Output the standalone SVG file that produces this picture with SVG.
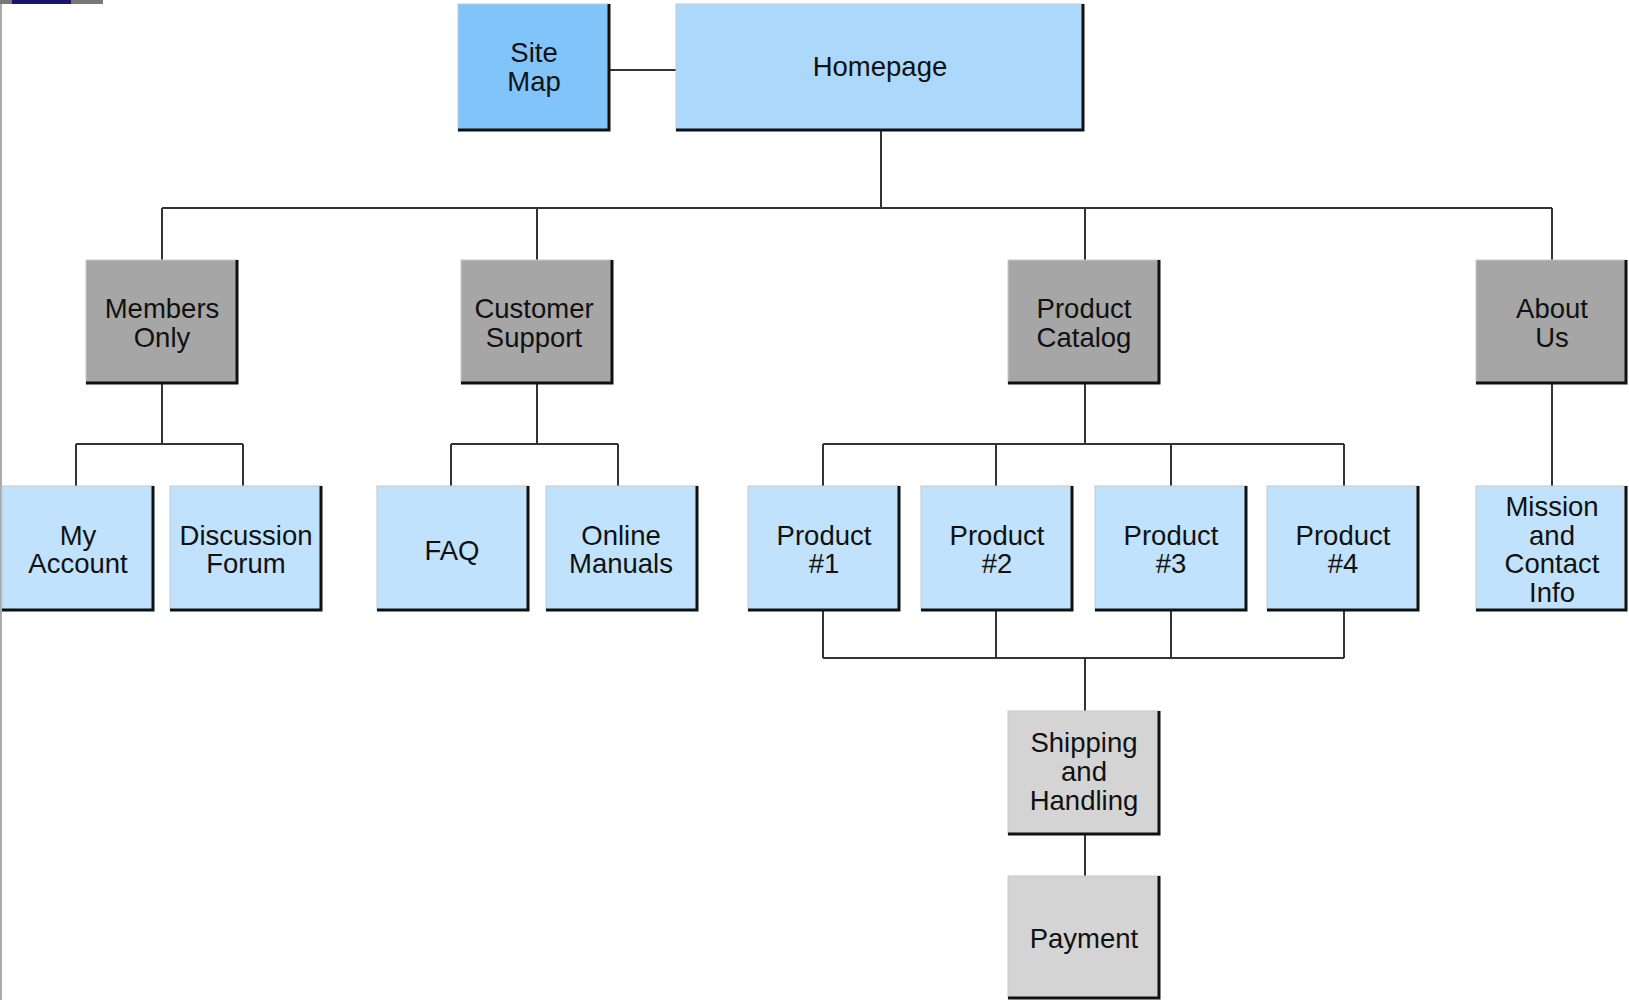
<svg xmlns="http://www.w3.org/2000/svg" width="1629" height="1000" viewBox="0 0 1629 1000">
<style>
.box{stroke:#c8c8c8;stroke-width:1}
.sh{fill:none;stroke:#111;stroke-width:3}
.sitemap{fill:#80c4fa}
.home{fill:#acd8fc}
.sec{fill:#a6a6a6}
.leaf{fill:#c0e2fc}
.chk{fill:#d4d4d4}
text{font-family:"Liberation Sans",Arial,Helvetica,sans-serif;font-size:27.5px;fill:#111;text-anchor:middle}
.conn{fill:none;stroke:#333;stroke-width:2}
</style>
<rect width="1629" height="1000" fill="#fff"/>
<rect x="0" y="0" width="103" height="4" fill="#777"/>
<rect x="12" y="0" width="59" height="4" fill="#15156a"/>
<rect x="0" y="4" width="2" height="996" fill="#aaa"/>

<g id="connectors">
<path class="conn" d="M610 70H676"/>
<path class="conn" d="M881 130V208M162 208H1552M162 208V260M537 208V260M1085 208V260M1552 208V260"/>
<path class="conn" d="M162 384V444M76 444H243M76 444V486M243 444V486"/>
<path class="conn" d="M537 384V444M451 444H618M451 444V486M618 444V486"/>
<path class="conn" d="M1085 384V444M823 444H1344M823 444V486M996 444V486M1171 444V486M1344 444V486"/>
<path class="conn" d="M1552 384V486"/>
<path class="conn" d="M823 611V658M996 611V658M1171 611V658M1344 611V658M823 658H1344M1085 658V711"/>
<path class="conn" d="M1085 834V876"/>
</g>

<g id="sitemap"><rect class="box sitemap" x="458" y="4" width="151" height="126"/><path class="sh" d="M609 4V130H458"/><text x="534" y="62">Site</text><text x="534" y="91">Map</text></g>
<g id="homepage"><rect class="box home" x="676" y="4" width="407" height="126"/><path class="sh" d="M1083 4V130H676"/><text x="880" y="76">Homepage</text></g>

<g id="members"><rect class="box sec" x="86" y="260" width="151" height="123"/><path class="sh" d="M237 260V383H86"/><text x="162" y="318">Members</text><text x="162" y="347">Only</text></g>
<g id="customer"><rect class="box sec" x="461" y="260" width="151" height="123"/><path class="sh" d="M612 260V383H461"/><text x="534" y="318">Customer</text><text x="534" y="347">Support</text></g>
<g id="catalog"><rect class="box sec" x="1008" y="260" width="151" height="123"/><path class="sh" d="M1159 260V383H1008"/><text x="1084" y="318">Product</text><text x="1084" y="347">Catalog</text></g>
<g id="about"><rect class="box sec" x="1476" y="260" width="150" height="123"/><path class="sh" d="M1626 260V383H1476"/><text x="1552" y="318">About</text><text x="1552" y="347">Us</text></g>

<g id="myaccount"><rect class="box leaf" x="2" y="486" width="151" height="124"/><path class="sh" d="M153 486V610H2"/><text x="78" y="545">My</text><text x="78" y="573">Account</text></g>
<g id="forum"><rect class="box leaf" x="170" y="486" width="151" height="124"/><path class="sh" d="M321 486V610H170"/><text x="246" y="545">Discussion</text><text x="246" y="573">Forum</text></g>
<g id="faq"><rect class="box leaf" x="377" y="486" width="151" height="124"/><path class="sh" d="M528 486V610H377"/><text x="452" y="560">FAQ</text></g>
<g id="manuals"><rect class="box leaf" x="546" y="486" width="151" height="124"/><path class="sh" d="M697 486V610H546"/><text x="621" y="545">Online</text><text x="621" y="573">Manuals</text></g>
<g id="product1"><rect class="box leaf" x="748" y="486" width="151" height="124"/><path class="sh" d="M899 486V610H748"/><text x="824" y="545">Product</text><text x="824" y="573">#1</text></g>
<g id="product2"><rect class="box leaf" x="921" y="486" width="151" height="124"/><path class="sh" d="M1072 486V610H921"/><text x="997" y="545">Product</text><text x="997" y="573">#2</text></g>
<g id="product3"><rect class="box leaf" x="1095" y="486" width="151" height="124"/><path class="sh" d="M1246 486V610H1095"/><text x="1171" y="545">Product</text><text x="1171" y="573">#3</text></g>
<g id="product4"><rect class="box leaf" x="1267" y="486" width="151" height="124"/><path class="sh" d="M1418 486V610H1267"/><text x="1343" y="545">Product</text><text x="1343" y="573">#4</text></g>
<g id="mission"><rect class="box leaf" x="1476" y="486" width="150" height="124"/><path class="sh" d="M1626 486V610H1476"/><text x="1552" y="516">Mission</text><text x="1552" y="545">and</text><text x="1552" y="573">Contact</text><text x="1552" y="602">Info</text></g>

<g id="shipping"><rect class="box chk" x="1008" y="711" width="151" height="123"/><path class="sh" d="M1159 711V834H1008"/><text x="1084" y="752">Shipping</text><text x="1084" y="781">and</text><text x="1084" y="810">Handling</text></g>
<g id="payment"><rect class="box chk" x="1008" y="876" width="151" height="122"/><path class="sh" d="M1159 876V998H1008"/><text x="1084" y="948">Payment</text></g>
</svg>
